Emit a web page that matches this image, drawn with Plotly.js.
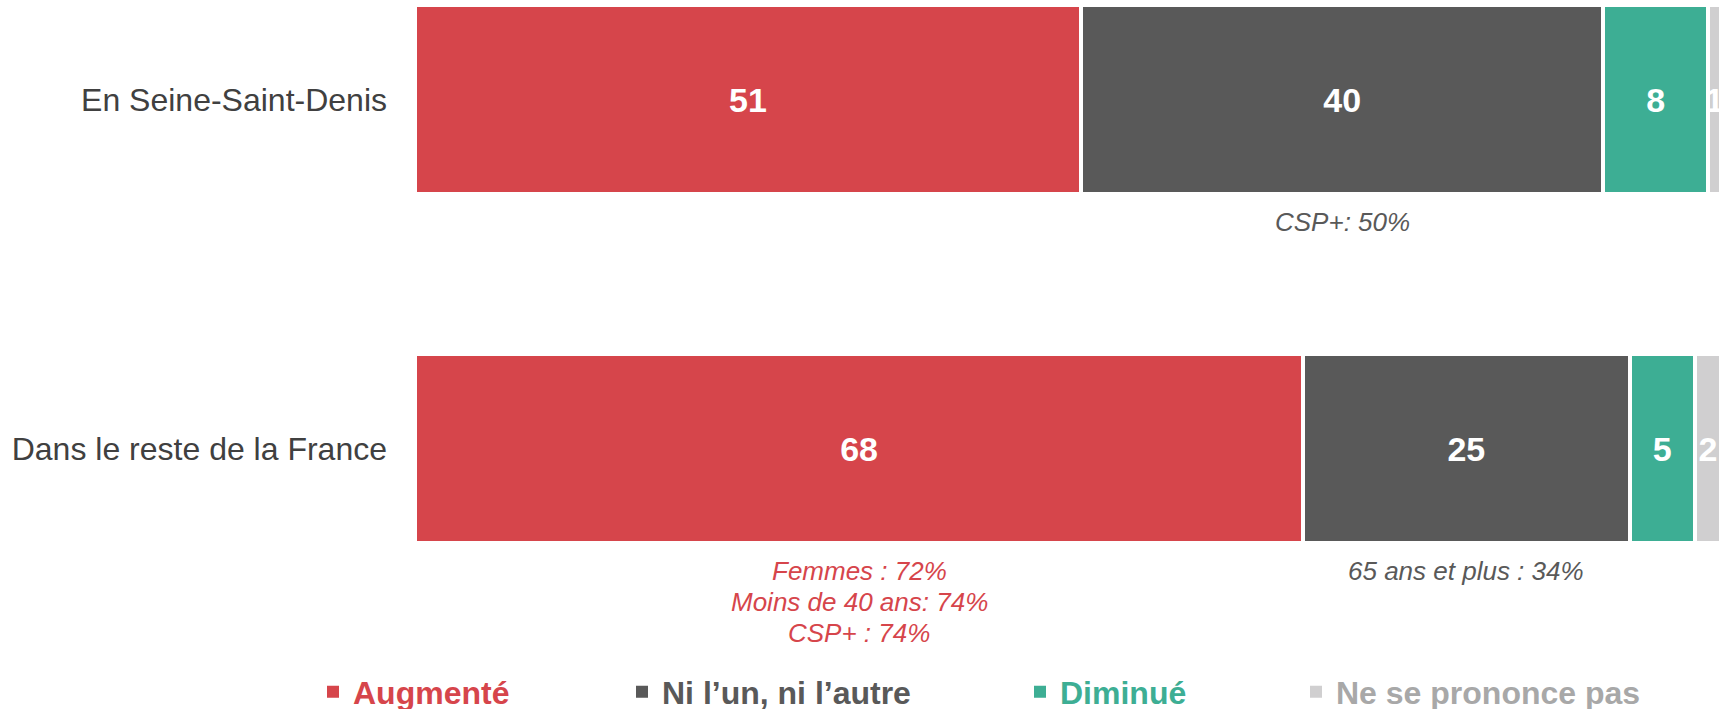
<!DOCTYPE html>
<html><head><meta charset="utf-8">
<script src="https://cdn.plot.ly/plotly-3.0.1.min.js"></script>
<style>html,body{margin:0;padding:0;background:#fff}#chart{width:1721px;height:709px}</style>
</head><body><div id="chart"></div>
<script>
// ---- data ----
const categories = ['En Seine-Saint-Denis', 'Dans le reste de la France'];
const seriesNames = ['Augmenté', 'Ni l’un, ni l’autre', 'Diminué', 'Ne se prononce pas'];
const augmente = [51, 68];
const niLunNiLautre = [40, 25];
const diminue = [8, 5];
const nsp = [1, 2];
// notes: text, category index, series index, line number
const noteTexts = ['CSP+: 50%', 'Femmes : 72%', 'Moins de 40 ans: 74%', 'CSP+ : 74%', '65 ans et plus : 34%'];
const noteCategory = [0, 1, 1, 1, 1];
const noteSeries = [1, 0, 0, 0, 1];
const noteLine = [0, 0, 1, 2, 0];

// ---- styles ----
const barColors = ['#D6454B', '#595959', '#3DAE94', '#D0CFD0'];
const legendColors = ['#D6454B', '#595959', '#3DAE94', '#A8A8A8'];
const noteColors = ['#D6454B', '#595959', '#3DAE94', '#A8A8A8'];
const FONT = 'Liberation Sans, Arial, sans-serif';
const series = [augmente, niLunNiLautre, diminue, nsp];
const legendIds = ['legend', 'legend2', 'legend3', 'legend4'];
const legendX = [313, 622, 1020, 1296];

const traces = series.map((vals, i) => ({
  type: 'bar',
  orientation: 'h',
  name: seriesNames[i],
  y: categories,
  x: vals,
  width: 0.5415,
  marker: {color: barColors[i], line: {color: '#FFFFFF', width: 4}},
  text: vals.map(String),
  textposition: 'inside',
  insidetextanchor: 'middle',
  constraintext: 'none',
  textangle: 0,
  textfont: {family: FONT, size: 34, color: '#FFFFFF', weight: 'bold'},
  cliponaxis: true,
  hoverinfo: 'none',
  showlegend: false
}));

// legend-only entries (same series, no outline so the swatch is full size)
series.forEach((vals, i) => {
  traces.push({
    type: 'bar', orientation: 'h', name: seriesNames[i],
    y: [categories[0]], x: [0], width: 0.5415,
    marker: {color: barColors[i], line: {width: 0}},
    hoverinfo: 'none', showlegend: true, legend: legendIds[i]
  });
});

// annotations placed via data coordinates (segment midpoint)
const pxPerUnit = 349;
const annotations = noteTexts.map((t, k) => {
  const c = noteCategory[k], s = noteSeries[k];
  let start = 0;
  for (let j = 0; j < s; j++) start += series[j][c];
  const mid = start + series[s][c] / 2;
  return {
    x: mid, y: c + (122.5 + 31 * noteLine[k]) / pxPerUnit,
    xref: 'x', yref: 'y', text: t, showarrow: false,
    xanchor: 'center', yanchor: 'middle',
    font: {family: FONT, size: 26, color: noteColors[s], style: 'italic'}
  };
});

const layout = {
  width: 1721, height: 709,
  margin: {l: 415, r: 0, t: 0, b: 60},
  paper_bgcolor: '#FFFFFF', plot_bgcolor: '#FFFFFF',
  barmode: 'stack',
  showlegend: true,
  xaxis: {range: [0, 100], showgrid: false, zeroline: false, showticklabels: false, showline: false, ticks: '', fixedrange: true},
  yaxis: {type: 'category', range: [1.5745, -0.2851], showgrid: false, zeroline: false, showline: false, ticks: '',
          ticklabelstandoff: 27,
          tickfont: {family: FONT, size: 32, color: '#404040'}, fixedrange: true},
  annotations: annotations
};
legendIds.forEach((id, i) => {
  layout[id] = {
    orientation: 'h', xref: 'container', yref: 'container',
    x: legendX[i] / 1721, xanchor: 'left',
    y: 1 - 692 / 709, yanchor: 'middle',
    bgcolor: 'rgba(0,0,0,0)', borderwidth: 0,
    font: {family: FONT, size: 32, color: legendColors[i], weight: 'bold'}
  };
});

Plotly.newPlot('chart', traces, layout, {displayModeBar: false, staticPlot: true});
</script>
</body></html>
